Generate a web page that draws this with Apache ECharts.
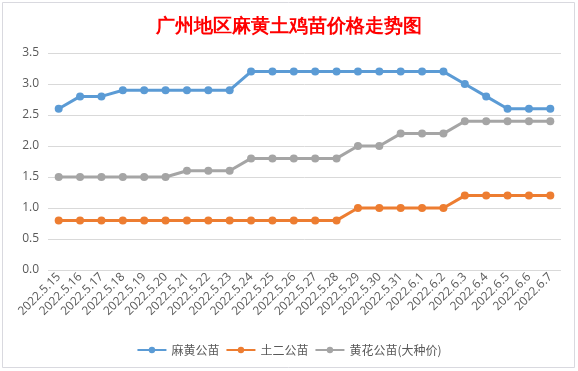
<!DOCTYPE html>
<html>
<head>
<meta charset="utf-8">
<script src="https://cdn.jsdelivr.net/npm/echarts@6/dist/echarts.min.js"></script>
<style>html,body{margin:0;padding:0;background:#fff;}#c{width:578px;height:371px;}</style>
</head>
<body>
<div id="c"></div>
<script>
const categories = ['2022.5.15','2022.5.16','2022.5.17','2022.5.18','2022.5.19','2022.5.20','2022.5.21','2022.5.22','2022.5.23','2022.5.24','2022.5.25','2022.5.26','2022.5.27','2022.5.28','2022.5.29','2022.5.30','2022.5.31','2022.6.1','2022.6.2','2022.6.3','2022.6.4','2022.6.5','2022.6.6','2022.6.7'];
const mahuang = [2.6,2.8,2.8,2.9,2.9,2.9,2.9,2.9,2.9,3.2,3.2,3.2,3.2,3.2,3.2,3.2,3.2,3.2,3.2,3.0,2.8,2.6,2.6,2.6];
const tuer = [0.8,0.8,0.8,0.8,0.8,0.8,0.8,0.8,0.8,0.8,0.8,0.8,0.8,0.8,1.0,1.0,1.0,1.0,1.0,1.2,1.2,1.2,1.2,1.2];
const huanghua = [1.5,1.5,1.5,1.5,1.5,1.5,1.6,1.6,1.6,1.8,1.8,1.8,1.8,1.8,2.0,2.0,2.2,2.2,2.2,2.4,2.4,2.4,2.4,2.4];
const seriesNames = ['麻黄公苗','土二公苗','黄花公苗(大种价)'];
const colors = ['#5B9BD5','#ED7D31','#A5A5A5'];
const titleText = '广州地区麻黄土鸡苗价格走势图';

const chart = echarts.init(document.getElementById('c'), null, {renderer:'canvas'});
const mk = (name, data, color) => ({
  name, type:'line', data, color,
  symbol:'circle', symbolSize:8, showSymbol:true,
  lineStyle:{width:3, color},
  itemStyle:{color},
  animation:false
});
chart.setOption({
  animation:false,
  backgroundColor:'#fff',
  graphic:[{type:'rect', shape:{x:2.5,y:2.5,width:572,height:365}, style:{fill:'none', stroke:'#D9D9DF', lineWidth:1}, silent:true}],
  title:{text:titleText, left:'center', top:13, textStyle:{color:'#FF0000', fontSize:19, fontWeight:'bold', fontFamily:'serif'}},
  legend:{top:339, left:'center', itemWidth:29, itemHeight:8, itemGap:6,
    textStyle:{color:'#595959', fontSize:12, fontFamily:'"Noto Sans CJK SC", sans-serif'}},
  grid:{left:48, right:17, top:53, bottom:101, containLabel:false},
  xAxis:{type:'category', data:categories, boundaryGap:true,
    axisLine:{show:false}, axisTick:{show:false},
    axisLabel:{rotate:45, color:'#595959', fontSize:12, margin:5, interval:0, fontFamily:'"Open Sans", sans-serif'}},
  yAxis:{type:'value', min:0, max:3.5, interval:0.5,
    axisLabel:{color:'#595959', fontSize:12, margin:9, formatter:v=>v.toFixed(1), fontFamily:'"Open Sans", sans-serif'},
    splitLine:{lineStyle:{color:'#D9D9D9', width:1}},
    axisLine:{show:false}, axisTick:{show:false}},
  series:[mk(seriesNames[0], mahuang, colors[0]), mk(seriesNames[1], tuer, colors[1]), mk(seriesNames[2], huanghua, colors[2])]
});
</script>
</body>
</html>
